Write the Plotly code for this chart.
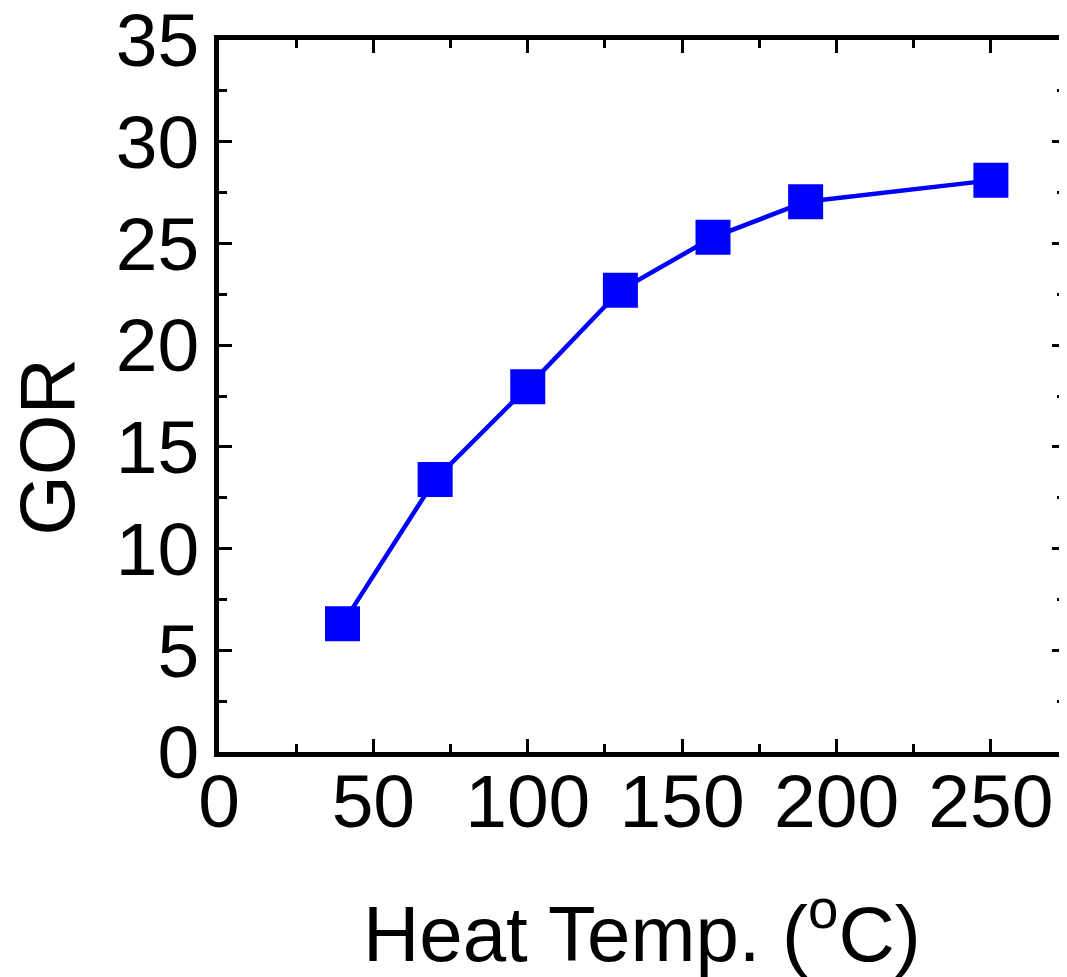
import plotly.graph_objects as go

temps = [40, 70, 100, 130, 160, 190, 250]
gor = [6.3, 13.4, 17.95, 22.7, 25.3, 27.05, 28.1]

x_ticks = [0, 50, 100, 150, 200, 250]
y_ticks = [0, 5, 10, 15, 20, 25, 30, 35]

FONT = "Liberation Sans, Arial, sans-serif"

fig = go.Figure()
fig.add_trace(go.Scatter(
    x=temps, y=gor, mode="lines+markers",
    line=dict(color="#0000FF", width=4.5),
    marker=dict(symbol="square", size=35, color="#0000FF"),
    showlegend=False,
))

axis_common = dict(
    showgrid=False, zeroline=False, showline=True, linecolor="black", linewidth=4.5,
    mirror="allticks", ticks="inside", ticklen=13, tickwidth=3, tickcolor="black",
    tickfont=dict(family=FONT, size=75, color="black"), automargin=False,
    ticklabeloverflow="allow",
)

fig.update_xaxes(range=[0, 274], tickvals=x_ticks, ticktext=[str(v) for v in x_ticks],
                 minor=dict(dtick=25, tick0=0, ticks="inside", ticklen=8, tickwidth=3, tickcolor="black"),
                 ticklabelstandoff=-20, **axis_common)
fig.update_yaxes(range=[0, 35.0001], tickvals=y_ticks, ticktext=[str(v) for v in y_ticks],
                 minor=dict(dtick=2.5, tick0=0, ticks="inside", ticklen=8, tickwidth=3, tickcolor="black"),
                 **axis_common)

fig.add_annotation(text="Heat Temp. (<sup>o</sup>C)", xref="paper", yref="paper",
                   x=0.5, y=0, xanchor="center", yanchor="top", yshift=-125,
                   showarrow=False, font=dict(family=FONT, size=78, color="black"))
fig.add_annotation(text="GOR", xref="paper", yref="y", x=0, y=15,
                   xanchor="center", yanchor="middle", xshift=-172, textangle=-90,
                   showarrow=False, font=dict(family=FONT, size=78, color="black"))

# page body has an 8px default margin; the figure is sized to fit inside it
fig.update_layout(
    width=1059, height=969,
    margin=dict(l=211, r=2, t=32, b=225, autoexpand=False),
    plot_bgcolor="white", paper_bgcolor="white",
)

fig.write_html("out.html")
